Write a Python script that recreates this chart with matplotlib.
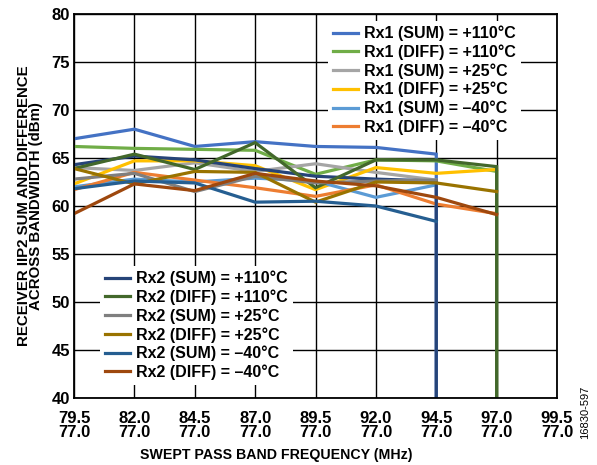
import matplotlib
matplotlib.use("Agg")
import matplotlib.pyplot as plt

plt.rcParams['font.family'] = ['Liberation Sans', 'DejaVu Sans']
plt.rcParams['font.weight'] = 'bold'

# category positions (index) and tick labels
freq_top = ['79.5', '82.0', '84.5', '87.0', '89.5', '92.0', '94.5', '97.0', '99.5']
freq_bottom = ['77.0'] * 9
tick_labels = [f"{a}\n{b}" for a, b in zip(freq_top, freq_bottom)]

# x positions (category index); SUM series end at 94.5, DIFF at 97.0.
# the +110 C series drop out (value 0) at their last category
x_sum = [0, 1, 2, 3, 4, 5, 6]
x_sum_drop = [0, 1, 2, 3, 4, 5, 6, 6]
x_diff = [0, 1, 2, 3, 4, 5, 6, 7]
x_diff_drop = [0, 1, 2, 3, 4, 5, 6, 7, 7]

rx1_sum_110 = [67.0, 68.0, 66.2, 66.7, 66.2, 66.1, 65.4, 0.0]
rx1_diff_110 = [66.2, 66.0, 65.9, 65.8, 63.3, 64.8, 64.7, 63.6, 0.0]
rx1_sum_25 = [64.0, 63.7, 64.5, 63.6, 64.4, 63.5, 62.7]
rx1_diff_25 = [62.3, 64.7, 64.7, 64.2, 61.7, 64.0, 63.4, 63.8]
rx1_sum_m40 = [62.0, 62.8, 62.5, 62.9, 62.6, 60.9, 62.2]
rx1_diff_m40 = [61.7, 63.5, 62.7, 61.9, 61.0, 62.2, 60.2, 59.2]

rx2_sum_110 = [64.3, 65.2, 64.8, 63.9, 63.1, 62.8, 62.6, 0.0]
rx2_diff_110 = [63.9, 65.4, 63.8, 66.6, 61.9, 64.8, 64.8, 64.1, 0.0]
rx2_sum_25 = [62.8, 63.4, 61.5, 63.1, 62.4, 62.6, 62.7]
rx2_diff_25 = [63.9, 62.3, 63.6, 63.5, 60.4, 62.5, 62.4, 61.5]
rx2_sum_m40 = [61.8, 62.6, 62.4, 60.4, 60.5, 60.0, 58.4]
rx2_diff_m40 = [59.2, 62.3, 61.6, 63.4, 62.6, 62.1, 60.9, 59.1]

rx1_series = [
    ("Rx1 (SUM) = +110°C", x_sum_drop, rx1_sum_110, "#4472C4"),
    ("Rx1 (DIFF) = +110°C", x_diff_drop, rx1_diff_110, "#70AD47"),
    ("Rx1 (SUM) = +25°C", x_sum, rx1_sum_25, "#A5A5A5"),
    ("Rx1 (DIFF) = +25°C", x_diff, rx1_diff_25, "#FFC000"),
    ("Rx1 (SUM) = \u201340°C", x_sum, rx1_sum_m40, "#5B9BD5"),
    ("Rx1 (DIFF) = \u201340°C", x_diff, rx1_diff_m40, "#ED7D31"),
]
rx2_series = [
    ("Rx2 (SUM) = +110°C", x_sum_drop, rx2_sum_110, "#264478"),
    ("Rx2 (DIFF) = +110°C", x_diff_drop, rx2_diff_110, "#43682B"),
    ("Rx2 (SUM) = +25°C", x_sum, rx2_sum_25, "#7F7F7F"),
    ("Rx2 (DIFF) = +25°C", x_diff, rx2_diff_25, "#997300"),
    ("Rx2 (SUM) = \u201340°C", x_sum, rx2_sum_m40, "#255E91"),
    ("Rx2 (DIFF) = \u201340°C", x_diff, rx2_diff_m40, "#9E480E"),
]

fig = plt.figure(figsize=(5.97, 4.65), dpi=100)
ax = fig.add_axes([0.124, 0.144, 0.809, 0.826])

ax.set_xlim(0, 8)
ax.set_ylim(40, 80)
ax.set_xticks(range(9))
ax.set_xticklabels(tick_labels, fontsize=12, fontweight='bold', linespacing=0.95)
ax.set_yticks(range(40, 81, 5))
ax.tick_params(axis='both', length=0)
ax.tick_params(axis='x', pad=9)
ax.tick_params(axis='y', pad=3, labelsize=12)
for lab in ax.get_yticklabels():
    lab.set_fontweight('bold')
ax.grid(True, color='black', linewidth=1.0, zorder=0)
ax.set_axisbelow(True)
for sp in ax.spines.values():
    sp.set_linewidth(1.3)
    sp.set_color('black')

h1, h2 = [], []
for name, xs, ys, c in rx1_series:
    ln, = ax.plot(xs, ys, color=c, lw=2.3, label=name, zorder=2, clip_on=True,
                  solid_joinstyle='miter')
    h1.append(ln)
for name, xs, ys, c in rx2_series:
    ln, = ax.plot(xs, ys, color=c, lw=2.3, label=name, zorder=2, clip_on=True,
                  solid_joinstyle='miter')
    h2.append(ln)

leg_kw = dict(frameon=True, facecolor='white', edgecolor='none', framealpha=1.0,
              fancybox=False, handlelength=1.6, handletextpad=0.35,
              labelspacing=0.2, borderpad=0.3, borderaxespad=0.0,
              prop={'weight': 'bold', 'size': 11.5})
leg1 = ax.legend(handles=h1, loc='upper left', bbox_to_anchor=(0.526, 0.982), **leg_kw)
leg1.set_zorder(5)
ax.add_artist(leg1)
leg2 = ax.legend(handles=h2, loc='upper left', bbox_to_anchor=(0.054, 0.344), **leg_kw)
leg2.set_zorder(5)

ax.set_ylabel("RECEIVER IIP2 SUM AND DIFFERENCE\nACROSS BANDWIDTH (dBm)",
              fontsize=10.8, fontweight='bold', linespacing=0.85, labelpad=6)
ax.set_xlabel("SWEPT PASS BAND FREQUENCY (MHz)", fontsize=10.2, fontweight='bold')
ax.xaxis.set_label_coords(0.418, -0.13)

fig.text(0.98, 0.114, "16830-597", rotation=90, fontsize=8, fontweight='normal',
         ha='center', va='center')

fig.savefig("out.png", dpi=100)
